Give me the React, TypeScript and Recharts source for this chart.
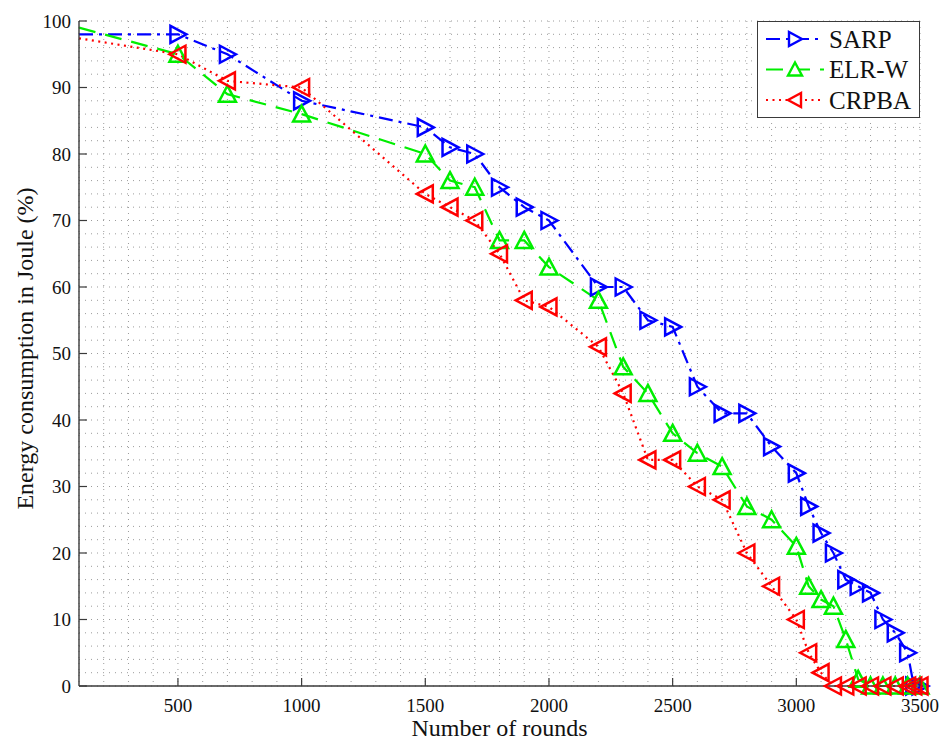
import React from "react";
import { LineChart, Line, XAxis, YAxis, CartesianGrid, Legend, Label } from "recharts";

// rounds (x) and remaining energy in % (y)
const sarpRounds = [100, 500, 700, 1000, 1500, 1600, 1700, 1800, 1900, 2000, 2200, 2300, 2400, 2500, 2600, 2700, 2800, 2900, 3000, 3050, 3100, 3150, 3200, 3250, 3300, 3350, 3400, 3450, 3475, 3500];
const sarpEnergy = [98, 98, 95, 88, 84, 81, 80, 75, 72, 70, 60, 60, 55, 54, 45, 41, 41, 36, 32, 27, 23, 20, 16, 15, 14, 10, 8, 5, 0, 0];

const elrRounds = [100, 500, 700, 1000, 1500, 1600, 1700, 1800, 1900, 2000, 2200, 2300, 2400, 2500, 2600, 2700, 2800, 2900, 3000, 3050, 3100, 3150, 3200, 3250, 3300, 3350, 3400, 3450, 3500];
const elrEnergy = [99, 95, 89, 86, 80, 76, 75, 67, 67, 63, 58, 48, 44, 38, 35, 33, 27, 25, 21, 15, 13, 12, 7, 1, 0, 0, 0, 0, 0];

const crpRounds = [100, 500, 700, 1000, 1500, 1600, 1700, 1800, 1900, 2000, 2200, 2300, 2400, 2500, 2600, 2700, 2800, 2900, 3000, 3050, 3100, 3150, 3200, 3250, 3300, 3350, 3400, 3450, 3475, 3500];
const crpEnergy = [97.4, 95, 91, 90, 74, 72, 70, 65, 58, 57, 51, 44, 34, 34, 30, 28, 20, 15, 10, 5, 2, 0, 0, 0, 0, 0, 0, 0, 0, 0];

const xDomain = [100, 3500];
const yDomain = [0, 100];
const xTicks = [500, 1000, 1500, 2000, 2500, 3000, 3500];
const yTicks = [0, 10, 20, 30, 40, 50, 60, 70, 80, 90, 100];
// dotted minor grid: every 100 rounds, every 2 %
const xGrid = Array.from({ length: 35 }, (_, i) => 100 + i * 100);
const yGrid = Array.from({ length: 51 }, (_, i) => i * 2);

const FONT = '"Liberation Serif", "Times New Roman", serif';
const AXIS = "#3a3a3a";

type Shape = "right" | "up" | "left";

const toRows = (rounds: number[], energy: number[]) =>
  rounds.map((r, i) => ({ rounds: r, energy: energy[i] }));

const series = [
  { name: "SARP", data: toRows(sarpRounds, sarpEnergy), color: "#0000ff", dash: "14 6 3 6", shape: "right" as Shape },
  { name: "ELR-W", data: toRows(elrRounds, elrEnergy), color: "#00ee00", dash: "17 10", shape: "up" as Shape },
  { name: "CRPBA", data: toRows(crpRounds, crpEnergy), color: "#ff0000", dash: "2 4.5", shape: "left" as Shape },
];

function trianglePath(shape: Shape, cx: number, cy: number, s: number) {
  if (shape === "right") return `M${cx + s},${cy} L${cx - s + 1},${cy - s} L${cx - s + 1},${cy + s} Z`;
  if (shape === "left") return `M${cx - s},${cy} L${cx + s - 1},${cy - s} L${cx + s - 1},${cy + s} Z`;
  return `M${cx},${cy - s} L${cx + s},${cy + s - 1} L${cx - s},${cy + s - 1} Z`;
}

const makeDot = (shape: Shape, color: string) => (props: any) => {
  const { cx, cy, payload, index } = props;
  // no marker on the point sitting on the left frame
  if (payload.rounds <= xDomain[0] || cx == null || cy == null) return <g key={`d-${index}`} />;
  return (
    <path
      key={`d-${index}`}
      d={trianglePath(shape, cx, cy, 8.5)}
      fill="none"
      stroke={color}
      strokeWidth={2.5}
    />
  );
};

const BottomTick = (p: any) => (
  <g>
    <line x1={p.x} x2={p.x} y1={p.y} y2={p.y - 8} stroke={AXIS} strokeWidth={1.2} />
    <text x={p.x} y={p.y + 26} textAnchor="middle" fontFamily={FONT} fontSize={19} fill="#111">
      {p.payload.value}
    </text>
  </g>
);

const LeftTick = (p: any) => (
  <g>
    <line x1={p.x} x2={p.x + 8} y1={p.y} y2={p.y} stroke={AXIS} strokeWidth={1.2} />
    <text x={p.x - 8} y={p.y + 6.5} textAnchor="end" fontFamily={FONT} fontSize={19} fill="#111">
      {p.payload.value}
    </text>
  </g>
);

const TopTick = (p: any) => (
  <line x1={p.x} x2={p.x} y1={p.y} y2={p.y + 8} stroke={AXIS} strokeWidth={1.2} />
);

const RightTick = (p: any) => (
  <line x1={p.x} x2={p.x - 8} y1={p.y} y2={p.y} stroke={AXIS} strokeWidth={1.2} />
);

const renderLegend = () => (
  <div
    style={{
      width: 163,
      height: 97,
      border: `1px solid ${AXIS}`,
      background: "#fff",
      boxSizing: "border-box",
    }}
  >
    <svg width={161} height={95} style={{ display: "block" }}>
      {series.map((s, i) => {
        const cy = 17 + i * 30.5;
        return (
          <g key={s.name}>
            <line x1={8} x2={66} y1={cy} y2={cy} stroke={s.color} strokeWidth={2.2} strokeDasharray={s.dash} />
            <path d={trianglePath(s.shape, 37, cy, 7)} fill="#fff" stroke={s.color} strokeWidth={2.4} />
            <text x={71} y={cy + 8.5} fontFamily={FONT} fontSize={25} fill="#111">
              {s.name}
            </text>
          </g>
        );
      })}
    </svg>
  </div>
);

const YTitle = (props: any) => {
  const vb = props.viewBox;
  const cx = vb.x + 25;
  const cy = vb.y + vb.height / 2 - 5;
  return (
    <text
      x={cx}
      y={cy}
      transform={`rotate(-90 ${cx} ${cy})`}
      textAnchor="middle"
      dominantBaseline="central"
      fontFamily={FONT}
      fontSize={24}
      fill="#111"
    >
      Energy consumption in Joule (%)
    </text>
  );
};

const XTitle = (props: any) => {
  const vb = props.viewBox;
  return (
    <text
      x={vb.x + vb.width / 2}
      y={vb.y + 50}
      textAnchor="middle"
      fontFamily={FONT}
      fontSize={24}
      fill="#111"
    >
      Number of rounds
    </text>
  );
};

export default function App() {
  return (
    <div style={{ position: "absolute", left: 0, top: 0, width: 939, height: 742, background: "#fff" }}>
      <LineChart width={939} height={742} margin={{ top: 21, right: 19, bottom: 0, left: 0 }}>
        <CartesianGrid
          verticalValues={xGrid}
          horizontalValues={yGrid}
          stroke="#9c9c9c"
          strokeWidth={1}
          strokeDasharray="1 5"
        />
        <XAxis
          dataKey="rounds"
          type="number"
          domain={xDomain}
          ticks={xTicks}
          height={56}
          tickSize={0}
          tickMargin={0}
          tick={BottomTick}
          axisLine={{ stroke: AXIS, strokeWidth: 1.4 }}
          interval={0}
        >
          <Label content={XTitle} />
        </XAxis>
        <XAxis
          xAxisId="top"
          orientation="top"
          type="number"
          domain={xDomain}
          ticks={xTicks}
          height={0}
          tickSize={0}
          tickMargin={0}
          tick={TopTick}
          axisLine={{ stroke: AXIS, strokeWidth: 1.4 }}
          interval={0}
          allowDataOverflow
        />
        <YAxis
          type="number"
          domain={yDomain}
          ticks={yTicks}
          width={79}
          tickSize={0}
          tickMargin={0}
          tick={LeftTick}
          axisLine={{ stroke: AXIS, strokeWidth: 1.4 }}
          interval={0}
        >
          <Label content={YTitle} />
        </YAxis>
        <YAxis
          yAxisId="right"
          orientation="right"
          type="number"
          domain={yDomain}
          ticks={yTicks}
          width={0}
          tickSize={0}
          tickMargin={0}
          tick={RightTick}
          axisLine={{ stroke: AXIS, strokeWidth: 1.4 }}
          interval={0}
          allowDataOverflow
        />
        {series.map((s) => (
          <Line
            key={s.name}
            data={s.data}
            dataKey="energy"
            name={s.name}
            type="linear"
            stroke={s.color}
            strokeWidth={2.2}
            strokeDasharray={s.dash}
            dot={makeDot(s.shape, s.color)}
            activeDot={false}
            isAnimationActive={false}
          />
        ))}
        <Legend
          content={renderLegend}
          layout="vertical"
          align="center"
          verticalAlign="middle"
          wrapperStyle={{ left: 757, top: 21, width: 163, height: 97 }}
        />
      </LineChart>
    </div>
  );
}
